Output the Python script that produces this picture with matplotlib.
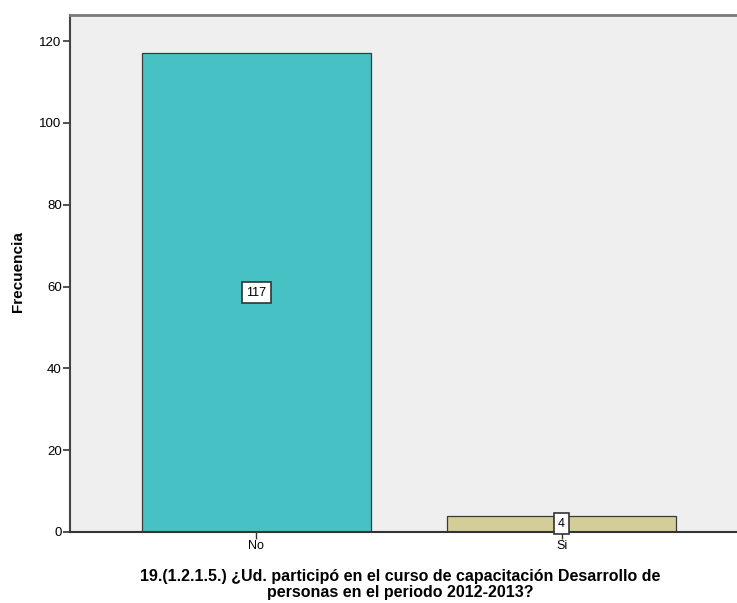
import matplotlib
matplotlib.use("Agg")
import matplotlib.pyplot as plt

categories = ["No", "Si"]
counts = [117, 4]
bar_colors = ["#48C1C4", "#D3CE98"]
yticks = [0, 20, 40, 60, 80, 100, 120]
x_title = ["19.(1.2.1.5.) ¿Ud. participó en el curso de capacitación Desarrollo de",
           "personas en el periodo 2012-2013?"]

plt.rcParams["font.family"] = ["Liberation Sans", "DejaVu Sans"]

W, H = 737, 603
fig = plt.figure(figsize=(W / 100, H / 100), dpi=100)
ax = fig.add_axes([70 / W, 71 / H, 667 / W, 517 / H])
ax.set_facecolor("#EFEFEF")

x = list(range(len(categories)))
ax.bar(x, counts, width=0.75, color=bar_colors, edgecolor="#3A3A3A", linewidth=0.9, zorder=2)

for xi, v in zip(x, counts):
    ax.text(xi, v / 2, str(v), ha="center", va="center", fontsize=9, zorder=3,
            bbox=dict(boxstyle="square,pad=0.35", facecolor="white", edgecolor="#333333", linewidth=1.2))

ax.set_xlim(-0.611, 1.575)
ax.set_ylim(0, 126.4)
ax.set_xticks(x)
ax.set_xticklabels(categories, fontsize=9)
ax.set_yticks(yticks)
ax.set_yticklabels([str(t) for t in yticks], fontsize=9.5)
ax.tick_params(axis="y", direction="out", length=5, width=1.2, color="#333333", pad=1)
ax.tick_params(axis="x", direction="out", length=5, width=1.0, color="#333333", pad=1)

ax.spines["right"].set_visible(False)
ax.spines["left"].set_color("#444444")
ax.spines["left"].set_linewidth(1.5)
ax.spines["bottom"].set_color("#333333")
ax.spines["bottom"].set_linewidth(1.5)
ax.spines["top"].set_color("#7A7A7A")
ax.spines["top"].set_linewidth(2)

ax.set_ylabel("Frecuencia", fontsize=11, fontweight="bold")
ax.yaxis.set_label_coords(-(70 - 25) / 667, (532 - 272) / 517)

# two-line axis title, set tightly under the category labels
for line, ypix in zip(x_title, [576, 592]):
    fig.text(400 / W, 1 - ypix / H, line, ha="center", va="center",
             fontsize=11.5, fontweight="bold")

fig.savefig("out.png", dpi=100, facecolor="white")
